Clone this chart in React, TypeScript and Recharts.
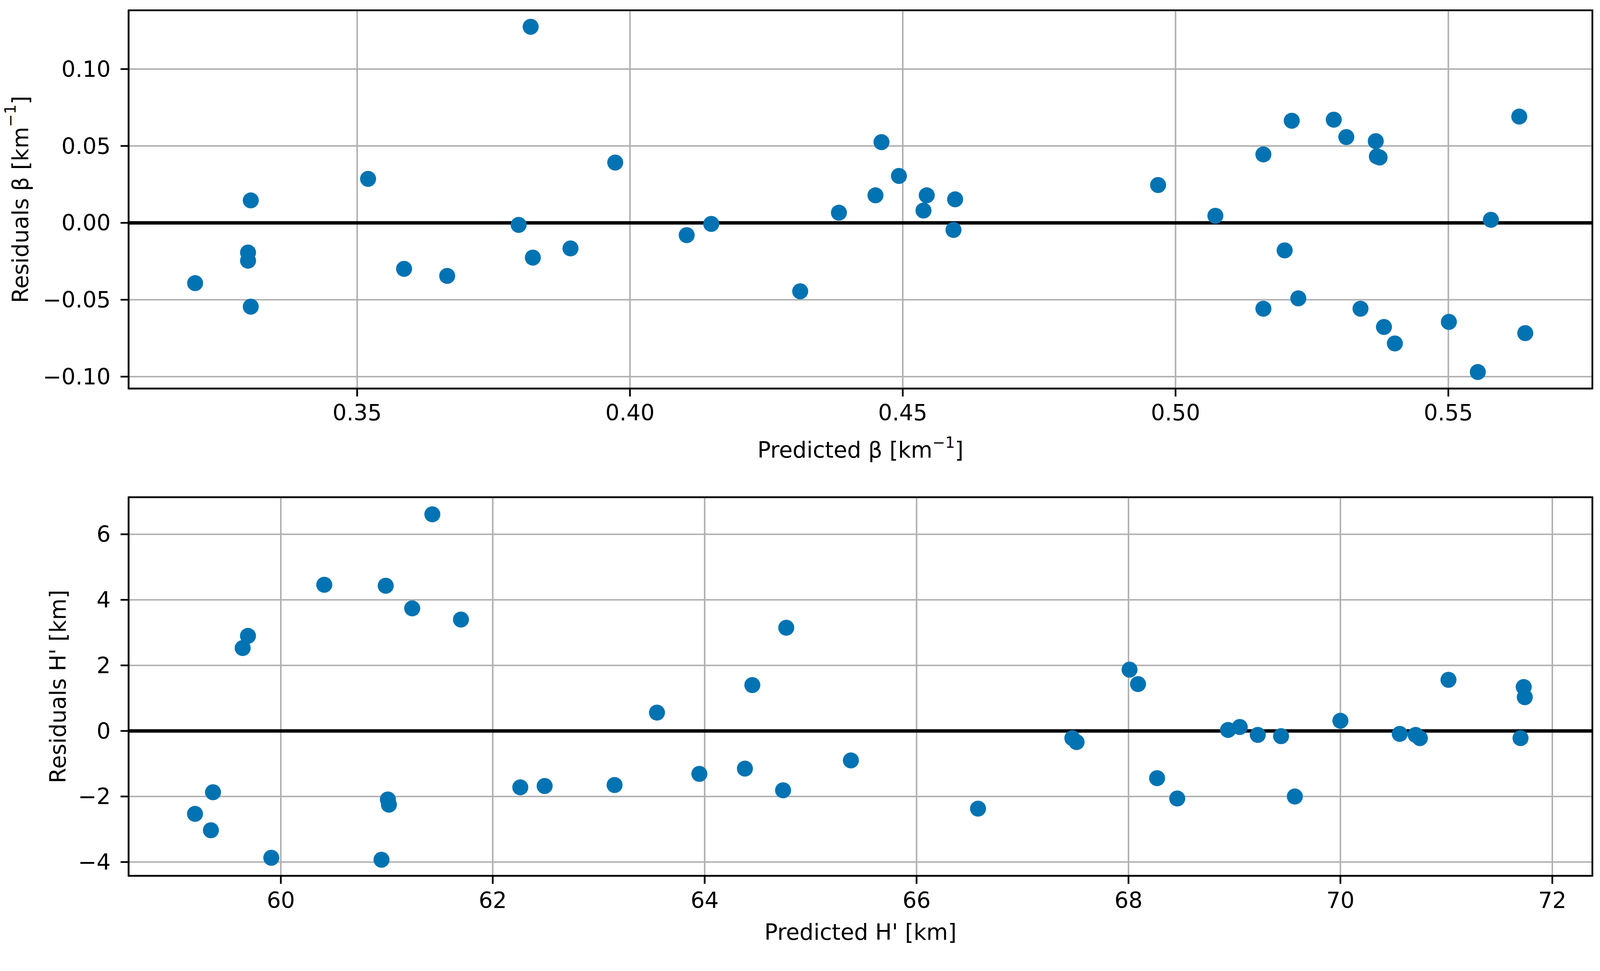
import {
  ScatterChart,
  Scatter,
  XAxis,
  YAxis,
  CartesianGrid,
  ReferenceLine,
  ReferenceArea,
} from "recharts";

// predicted beta [km^-1] vs residual
const betaPredicted = [
  0.3203, 0.3300, 0.3300, 0.3305, 0.3305, 0.3520, 0.3586, 0.3665, 0.3796, 0.3818, 0.3822,
  0.3891, 0.3973, 0.4104, 0.4149, 0.4312, 0.4383, 0.4450, 0.4461, 0.4493, 0.4538, 0.4544,
  0.4593, 0.4596, 0.4968, 0.5073, 0.5161, 0.5161, 0.5200, 0.5213, 0.5225, 0.5290, 0.5313,
  0.5339, 0.5367, 0.5369, 0.5374, 0.5382, 0.5402, 0.5501, 0.5554, 0.5578, 0.5630, 0.5641,
];
const betaResidual = [
  -0.0392, -0.0193, -0.0246, 0.0146, -0.0545, 0.0286, -0.0299, -0.0345, -0.0013, 0.1275, -0.0226,
  -0.0166, 0.0392, -0.0080, -0.0007, -0.0445, 0.0066, 0.0179, 0.0525, 0.0305, 0.0080, 0.0179,
  -0.0046, 0.0153, 0.0246, 0.0046, 0.0445, -0.0558, -0.0179, 0.0664, -0.0491, 0.0671, 0.0558,
  -0.0558, 0.0531, 0.0432, 0.0425, -0.0677, -0.0784, -0.0644, -0.0970, 0.0020, 0.0691, -0.0717,
];

// predicted H' [km] vs residual
const hPredicted = [
  59.19, 59.34, 59.36, 59.64, 59.69, 59.91, 60.41, 60.95, 60.99, 61.01, 61.02,
  61.24, 61.43, 61.70, 62.26, 62.49, 63.15, 63.55, 63.95, 64.38, 64.45, 64.74,
  64.77, 65.38, 66.58, 67.47, 67.51, 68.01, 68.09, 68.27, 68.46, 68.94, 69.05,
  69.22, 69.44, 69.57, 70.00, 70.56, 70.71, 70.75, 71.02, 71.70, 71.73, 71.74,
];
const hResidual = [
  -2.53, -3.03, -1.87, 2.53, 2.90, -3.87, 4.46, -3.93, 4.43, -2.09, -2.25,
  3.74, 6.61, 3.40, -1.72, -1.68, -1.65, 0.56, -1.31, -1.15, 1.40, -1.81,
  3.15, -0.90, -2.37, -0.22, -0.34, 1.87, 1.43, -1.44, -2.06, 0.03, 0.12,
  -0.12, -0.16, -2.00, 0.31, -0.09, -0.12, -0.22, 1.56, -0.22, 1.34, 1.03,
];

const betaXTicks = [0.35, 0.4, 0.45, 0.5, 0.55];
const betaYTicks = [-0.1, -0.05, 0, 0.05, 0.1];
const hXTicks = [60, 62, 64, 66, 68, 70, 72];
const hYTicks = [-4, -2, 0, 2, 4, 6];

const betaXDomain = [0.3081, 0.5764];
const betaYDomain = [-0.1077, 0.1382];
const hXDomain = [58.563, 72.378];
const hYDomain = [-4.42, 7.13];

const W = 4194;
const H = 2485;
const FONT = "DejaVu Sans";
const FS = 58;
const DOT = "#0173B2";
const SPINE = 4.5;

const betaData = betaPredicted.map((x, i) => ({ x, y: betaResidual[i] }));
const hData = hPredicted.map((x, i) => ({ x, y: hResidual[i] }));

const minus = (s: string) => s.replace("-", "\u2212");

const tickStyle = { fill: "#000", fontSize: FS, fontFamily: FONT };
const tickLineStyle = { stroke: "#000", strokeWidth: SPINE };
const axisLineStyle = { stroke: "#000", strokeWidth: SPINE };

const Dot = (props: any) => <circle cx={props.cx} cy={props.cy} r={21} fill={DOT} />;

function XTitle({ viewBox, offset, children }: any) {
  const vb = viewBox || {};
  return (
    <text
      x={vb.x + vb.width / 2}
      y={vb.y + offset}
      textAnchor="middle"
      fontFamily={FONT}
      fontSize={FS}
      fill="#000"
    >
      {children}
    </text>
  );
}

function YTitle({ viewBox, cx, children }: any) {
  const vb = viewBox || {};
  const cy = vb.y + vb.height / 2;
  return (
    <text
      x={cx}
      y={cy}
      transform={`rotate(-90 ${cx} ${cy})`}
      textAnchor="middle"
      dominantBaseline="central"
      fontFamily={FONT}
      fontSize={FS}
      fill="#000"
    >
      {children}
    </text>
  );
}

const kmInv = [
  <tspan key="a">[km</tspan>,
  <tspan key="b" fontSize={40} dy={-26}>
    {"\u22121"}
  </tspan>,
  <tspan key="c" dy={26}>
    ]
  </tspan>,
];

export default function App() {
  // fit the fixed-size figure into whatever viewport we get
  const vw = typeof window !== "undefined" ? window.innerWidth : W;
  const vh = typeof window !== "undefined" ? window.innerHeight : H;
  const s = Math.min(vw / W, vh / H);

  return (
    <div
      style={{
        position: "fixed",
        left: 0,
        top: 0,
        width: vw,
        height: vh,
        overflow: "hidden",
        background: "#fff",
      }}
    >
      <div style={{ width: W, height: H, transform: `scale(${s})`, transformOrigin: "0 0" }}>
        <ScatterChart width={W} height={1290} margin={{ top: 27, right: 20, bottom: 72, left: 0 }}>
          <XAxis
            type="number"
            dataKey="x"
            domain={betaXDomain}
            ticks={betaXTicks}
            allowDataOverflow
            height={200}
            tickSize={21}
            tickMargin={22}
            tick={tickStyle}
            tickLine={tickLineStyle}
            axisLine={axisLineStyle}
            tickFormatter={(v: number) => v.toFixed(2)}
            label={(p: any) => (
              <XTitle viewBox={p.viewBox} offset={181}>
                Predicted β {kmInv}
              </XTitle>
            )}
          />
          <YAxis
            type="number"
            dataKey="y"
            domain={betaYDomain}
            ticks={betaYTicks}
            allowDataOverflow
            width={337}
            tickSize={21}
            tickMargin={26}
            tick={tickStyle}
            tickLine={tickLineStyle}
            axisLine={axisLineStyle}
            tickFormatter={(v: number) => minus(v.toFixed(2))}
            label={(p: any) => (
              <YTitle viewBox={p.viewBox} cx={53}>
                Residuals β {kmInv}
              </YTitle>
            )}
          />
          <Scatter data={betaData} shape={Dot} isAnimationActive={false} />
          <CartesianGrid stroke="#b0b0b0" strokeWidth={4} />
          <ReferenceLine y={0} stroke="#000" strokeWidth={9} />
          <ReferenceArea
            x1={betaXDomain[0]}
            x2={betaXDomain[1]}
            y1={betaYDomain[0]}
            y2={betaYDomain[1]}
            fill="none"
            stroke="#000"
            strokeWidth={SPINE}
            fillOpacity={0}
            ifOverflow="visible"
          />
        </ScatterChart>
        <ScatterChart width={W} height={1195} margin={{ top: 13, right: 20, bottom: 20, left: 0 }}>
          <XAxis
            type="number"
            dataKey="x"
            domain={hXDomain}
            ticks={hXTicks}
            allowDataOverflow
            height={170}
            tickSize={21}
            tickMargin={22}
            tick={tickStyle}
            tickLine={tickLineStyle}
            axisLine={axisLineStyle}
            label={(p: any) => (
              <XTitle viewBox={p.viewBox} offset={168}>
                Predicted H' [km]
              </XTitle>
            )}
          />
          <YAxis
            type="number"
            dataKey="y"
            domain={hYDomain}
            ticks={hYTicks}
            allowDataOverflow
            width={337}
            tickSize={21}
            tickMargin={26}
            tick={tickStyle}
            tickLine={tickLineStyle}
            axisLine={axisLineStyle}
            tickFormatter={(v: number) => minus(String(v))}
            label={(p: any) => (
              <YTitle viewBox={p.viewBox} cx={152}>
                Residuals H' [km]
              </YTitle>
            )}
          />
          <Scatter data={hData} shape={Dot} isAnimationActive={false} />
          <CartesianGrid stroke="#b0b0b0" strokeWidth={4} />
          <ReferenceLine y={0} stroke="#000" strokeWidth={9} />
          <ReferenceArea
            x1={hXDomain[0]}
            x2={hXDomain[1]}
            y1={hYDomain[0]}
            y2={hYDomain[1]}
            fill="none"
            stroke="#000"
            strokeWidth={SPINE}
            fillOpacity={0}
            ifOverflow="visible"
          />
        </ScatterChart>
      </div>
    </div>
  );
}
